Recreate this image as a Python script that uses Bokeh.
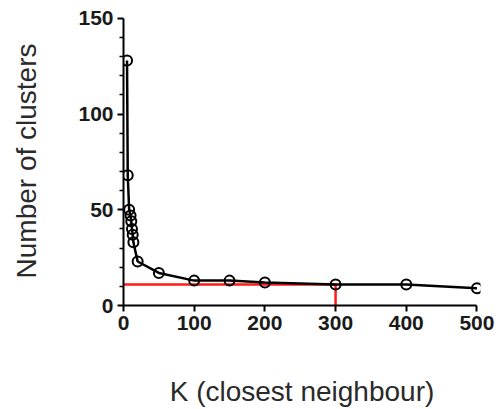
from bokeh.plotting import figure
from bokeh.embed import file_html
from bokeh.resources import INLINE
from bokeh.models import Range1d, FixedTicker

k_values = [5, 6, 8, 10, 11, 12, 13, 14, 20, 50, 100, 150, 200, 300, 400, 500]
n_clusters = [128, 68, 50, 47, 44, 40, 37, 33, 23, 17, 13, 13, 12, 11, 11, 9]
chosen_k = 300
chosen_n = 11
x_ticks = [0, 100, 200, 300, 400, 500]
y_ticks = [0, 50, 100, 150]
y_minor = [10, 20, 30, 40, 60, 70, 80, 90, 110, 120, 130, 140]

p = figure(width=498, height=409, output_backend="svg", toolbar_location=None,
           x_range=Range1d(0, 505), y_range=Range1d(0, 151),
           min_border_left=123, min_border_top=16, min_border_right=18, min_border_bottom=103)
p.outline_line_color = None
p.grid.visible = False
p.background_fill_color = "white"

# red reference lines
p.line([0, chosen_k], [chosen_n, chosen_n], line_color="#ff1a1a", line_width=2.5)
p.line([chosen_k, chosen_k], [0, chosen_n], line_color="#ff1a1a", line_width=2.5)

p.line(k_values, n_clusters, line_color="black", line_width=2.5)
p.scatter(k_values, n_clusters, size=10, fill_color=None, line_color="black", line_width=2)

for ax in (p.xaxis[0], p.yaxis[0]):
    ax.axis_line_width = 2
    ax.axis_line_color = "black"
    ax.major_tick_line_width = 2
    ax.major_tick_line_color = "black"
    ax.major_tick_in = 0
    ax.major_tick_out = 6
    ax.minor_tick_line_width = 1.5
    ax.minor_tick_line_color = "black"
    ax.minor_tick_in = 0
    ax.minor_tick_out = 4
    ax.major_label_text_font = "Liberation Sans"
    ax.major_label_text_font_style = "bold"
    ax.major_label_text_font_size = "21px"
    ax.major_label_text_color = "#1a1a1a"
    ax.axis_label_text_font = "Liberation Sans"
    ax.axis_label_text_font_style = "normal"
    ax.axis_label_text_font_size = "28px"
    ax.axis_label_text_color = "#2a2a2a"

p.xaxis[0].ticker = FixedTicker(ticks=x_ticks)
p.xaxis[0].bounds = (0, 500)
p.xaxis[0].minor_tick_out = 0
p.xaxis[0].major_label_standoff = 4
p.xaxis[0].axis_label = "K (closest neighbour)"
p.xaxis[0].axis_label_standoff = 43

p.yaxis[0].ticker = FixedTicker(ticks=y_ticks, minor_ticks=y_minor)
p.yaxis[0].bounds = (0, 150)
p.yaxis[0].major_label_standoff = 4
p.yaxis[0].axis_label = "Number of clusters"
p.yaxis[0].axis_label_standoff = 33

open("out.html", "w").write(file_html(p, INLINE))
